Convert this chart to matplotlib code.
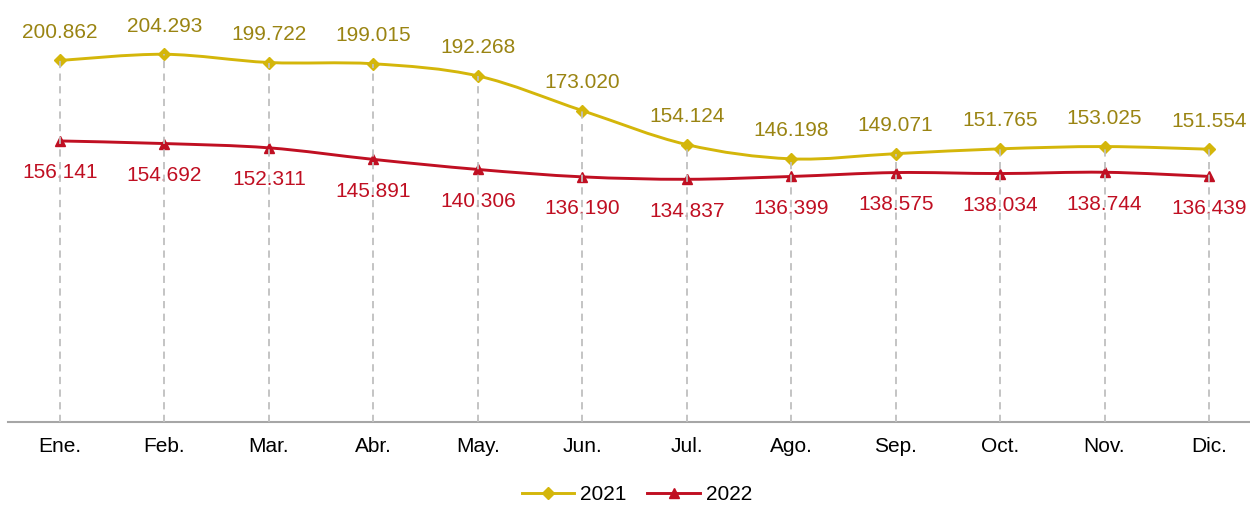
import numpy as np
import matplotlib.pyplot as plt
from matplotlib.path import Path
from matplotlib.patches import PathPatch
from matplotlib.lines import Line2D

plt.rcParams['font.family'] = ['Liberation Sans', 'DejaVu Sans']

months = ['Ene.', 'Feb.', 'Mar.', 'Abr.', 'May.', 'Jun.', 'Jul.', 'Ago.', 'Sep.', 'Oct.', 'Nov.', 'Dic.']
v2021 = [200.862, 204.293, 199.722, 199.015, 192.268, 173.020, 154.124, 146.198, 149.071, 151.765, 153.025, 151.554]
v2022 = [156.141, 154.692, 152.311, 145.891, 140.306, 136.190, 134.837, 136.399, 138.575, 138.034, 138.744, 136.439]
labels = ['2021', '2022']

c21, c21_txt = '#D4B60A', '#9A8412'
c22, c22_txt = '#C00F22', '#C00F22'


def smooth_path(x, y):
    # excel-like smoothed line: cubic bezier segments through the points
    pts = np.column_stack([x, y]).astype(float)
    n = len(pts)
    verts = [pts[0]]
    codes = [Path.MOVETO]
    for i in range(n - 1):
        p0 = pts[i - 1] if i > 0 else pts[i]
        p1, p2 = pts[i], pts[i + 1]
        p3 = pts[i + 2] if i + 2 < n else pts[i + 1]
        verts += [p1 + (p2 - p0) / 6, p2 - (p3 - p1) / 6, p2]
        codes += [Path.CURVE4] * 3
    return Path(verts, codes)


fig = plt.figure(figsize=(12.5, 5.05), dpi=100)
ax = fig.add_axes([7.8 / 1250, 83 / 505, 1253.4 / 1250, 396 / 505])
ax.set_xlim(-0.5, 11.5)
ax.set_ylim(0, 220)

x = np.arange(len(months))

# drop lines
for xi, yi in zip(x, v2021):
    ax.plot([xi, xi], [0, yi], color='#BFBFBF', lw=1.3, ls=(0, (4, 3)), zorder=5)

ax.add_patch(PathPatch(smooth_path(x, v2021), fill=False, edgecolor=c21, lw=2.1, zorder=3))
ax.add_patch(PathPatch(smooth_path(x, v2022), fill=False, edgecolor=c22, lw=2.1, zorder=3))
ax.plot(x, v2021, ls='none', marker='D', ms=6.5, color=c21, zorder=4)
ax.plot(x, v2022, ls='none', marker='^', ms=7, color=c22, zorder=4)

for xi, yi in zip(x, v2021):
    ax.annotate(f'{yi:.3f}', (xi, yi), xytext=(0, 28), textcoords='offset pixels',
                ha='center', va='center', fontsize=15, color=c21_txt, annotation_clip=False)
for xi, yi in zip(x, v2022):
    ax.annotate(f'{yi:.3f}', (xi, yi), xytext=(0, -32), textcoords='offset pixels',
                ha='center', va='center', fontsize=15, color=c22_txt, annotation_clip=False)

for s in ['top', 'right', 'left']:
    ax.spines[s].set_visible(False)
ax.spines['bottom'].set_color('#A6A6A6')
ax.spines['bottom'].set_linewidth(1.5)
ax.set_yticks([])
ax.set_xticks(x)
ax.set_xticklabels(months, fontsize=15)
ax.tick_params(axis='x', length=0, pad=11)

handles = [Line2D([], [], color=c21, lw=2.1, marker='D', ms=6.5),
           Line2D([], [], color=c22, lw=2.1, marker='^', ms=7)]
fig.legend(handles, labels, loc='center', bbox_to_anchor=(637 / 1250, 1 - 495 / 505),
           ncol=2, frameon=False, fontsize=15, handlelength=2.5, handletextpad=0.3,
           columnspacing=1.0)

fig.savefig('out.png', dpi=100)
